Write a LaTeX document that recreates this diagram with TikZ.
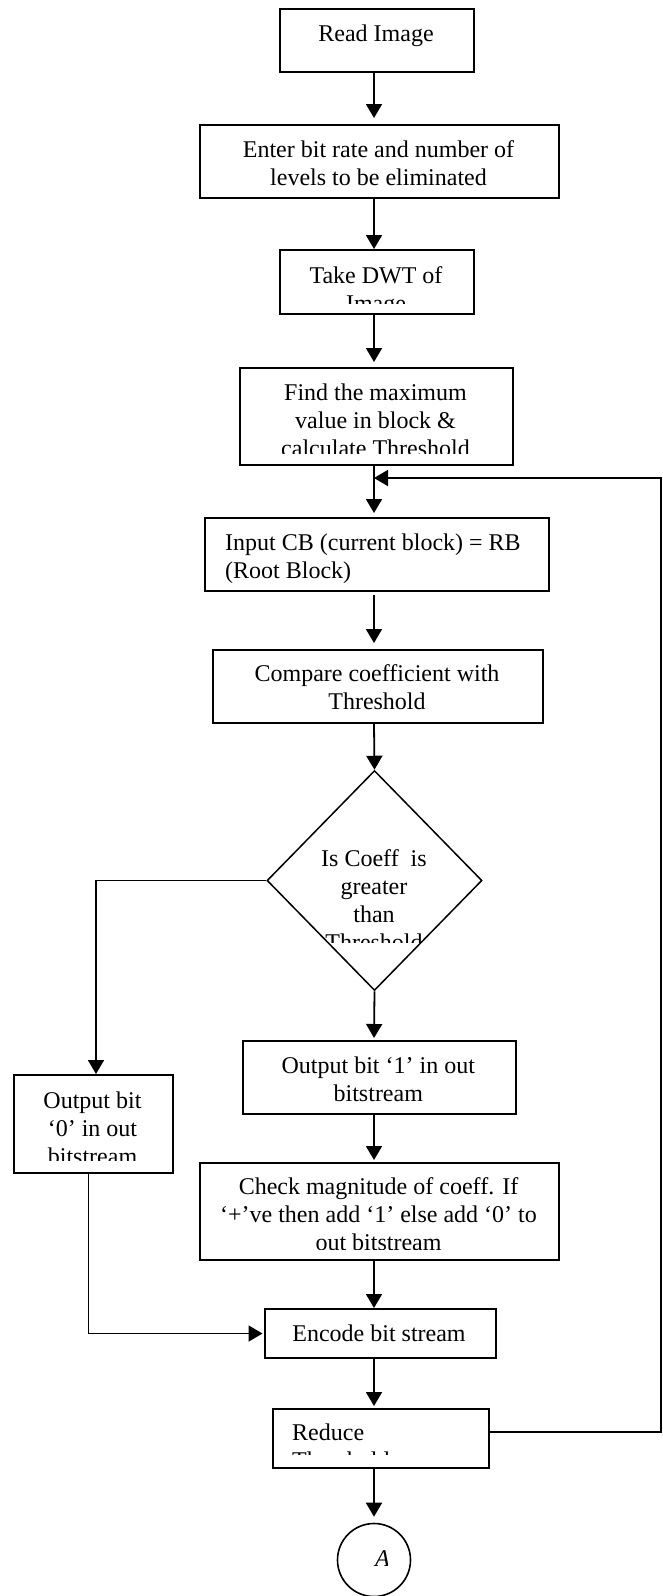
\documentclass[tikz,border=0pt]{standalone}
\usepackage{fontspec}
\setmainfont{Liberation Serif}
\usetikzlibrary{arrows.meta,shapes.geometric}
\newcommand\mlc[1]{\begin{tabular}[t]{@{}c@{}}#1\end{tabular}}
\newcommand\mll[1]{\begin{tabular}[t]{@{}l@{}}#1\end{tabular}}
\begin{document}
\begin{tikzpicture}[x=1pt,y=-1pt,
  box/.style={draw, line width=2pt, inner sep=0pt, anchor=north west},
  txt/.style={inner sep=0pt, font=\fontsize{24}{28}\selectfont, anchor=base},
  txtl/.style={inner sep=0pt, font=\fontsize{24}{28}\selectfont, anchor=base west},
  arr/.style={line width=1.8pt, -{Triangle[length=14pt,width=16pt]}},
  ln/.style={line width=1.8pt}]
\useasboundingbox (0,0) rectangle (663,1596);
\coordinate (mx) at (374,0);
\coordinate (l0) at (96,0);
\coordinate (l1) at (88.5,0);
\coordinate (fb) at (661,1432);
\coordinate (fbin) at (374,478);

% boxes
\node[box, minimum width=194pt, minimum height=63pt] (read) at (279,8) {};
\node[txt] (readt) at (376,41) {Read Image};

\node[box, minimum width=359pt, minimum height=73pt] (enter) at (199,124) {};
\node[txt] (entert) at (378.5,157) {\mlc{Enter bit rate and number of\\levels to be eliminated}};

\node[box, minimum width=194pt, minimum height=64pt] (dwt) at (279,249) {};
\begin{scope}
  \clip (279,249) rectangle (473,303);
  \node[txt] (dwtt) at (376,283) {\mlc{Take DWT of\\Image}};
\end{scope}

\node[box, minimum width=273pt, minimum height=97pt] (find) at (239,367) {};
\begin{scope}
  \clip (239,367) rectangle (512,453);
  \node[txt] (findt) at (375.5,400) {\mlc{Find the maximum\\value in block \&\\calculate Threshold}};
\end{scope}

\node[box, minimum width=344pt, minimum height=73pt] (input) at (204,517) {};
\node[txtl] (inputt) at (225,550) {\mll{Input CB (current block) = RB\\(Root Block)}};

\node[box, minimum width=330pt, minimum height=73pt] (compare) at (212,649) {};
\node[txt] (comparet) at (377,681.5) {\mlc{Compare coefficient with\\Threshold}};

\node[draw, diamond, line width=1.5pt, inner sep=0pt, minimum width=215pt, minimum height=220pt] (dia) at (374.5,880.5) {};
\begin{scope}
  \clip (dia.north) -- (dia.east) -- (dia.south) -- (dia.west) -- cycle;
  \clip (0,0) rectangle (663,942);
  \node[txt] (diat) at (374,866.5) {\mlc{Is Coeff\ \ is\\greater\\than\\Threshold}};
\end{scope}

\node[box, minimum width=273pt, minimum height=73pt] (out1) at (242,1040) {};
\node[txt] (out1t) at (378.3,1073) {\mlc{Output bit ‘1’ in out\\bitstream}};

\node[box, minimum width=159pt, minimum height=98pt] (out0) at (13,1074) {};
\begin{scope}
  \clip (13,1074) rectangle (172,1160);
  \node[txt] (out0t) at (92.5,1108.3) {\mlc{Output bit\\‘0’ in out\\bitstream}};
\end{scope}

\node[box, minimum width=359pt, minimum height=97pt] (check) at (199,1162) {};
\begin{scope}
  \clip (199,1162) rectangle (558,1249.5);
  \node[txt] (checkt) at (378.5,1194) {\mlc{Check magnitude of coeff. If\\‘+’ve then add ‘1’ else add ‘0’ to\\out bitstream}};
\end{scope}

\node[box, minimum width=230.5pt, minimum height=49pt] (encode) at (264,1308) {};
\node[txt] (encodet) at (379,1341.5) {Encode bit stream};

\node[box, minimum width=215.5pt, minimum height=59pt] (reduce) at (272,1408) {};
\begin{scope}
  \clip (272,1408) rectangle (487.5,1454);
  \node[txtl] (reducet) at (292,1440) {\mll{Reduce\\Threshold}};
\end{scope}

\node[draw, circle, line width=1.6pt, inner sep=0pt, minimum size=73pt] (circ) at (374,1560) {};
\begin{scope}
  \clip (340,1530) rectangle (387,1590);
  \node[txtl] (circt) at (375,1566.5) {\itshape A};
\end{scope}

% connectors
\draw[arr, shorten >=6pt] (read.south -| mx) -- (enter.north -| mx);
\draw[arr] (enter.south -| mx) -- (dwt.north -| mx);
\draw[arr, shorten >=5pt] (dwt.south -| mx) -- (find.north -| mx);
\draw[arr, shorten >=4pt] (find.south -| mx) -- (input.north -| mx);
\draw[arr, shorten <=3pt, shorten >=6pt] (input.south -| mx) -- (compare.north -| mx);
\draw[arr] (compare.south -| mx) -- (dia.north);
\draw[arr, shorten >=2pt] (dia.south) -- (out1.north -| mx);
\draw[arr] (dia.west) -| (out0.north -| l0);
\draw[arr, shorten >=2pt] (out1.south -| mx) -- (check.north -| mx);
\draw[arr] (check.south -| mx) -- (encode.north -| mx);
\draw[arr, shorten >=2pt] (encode.south -| mx) -- (reduce.north -| mx);
\draw[arr, shorten >=6pt] (reduce.south -| mx) -- (circ.north);
\draw[arr, shorten >=1.5pt] (out0.south -| l1) |- (encode.west);
\draw[arr] (reduce.east |- fb) -- (fb) |- (fbin);
\end{tikzpicture}
\end{document}
